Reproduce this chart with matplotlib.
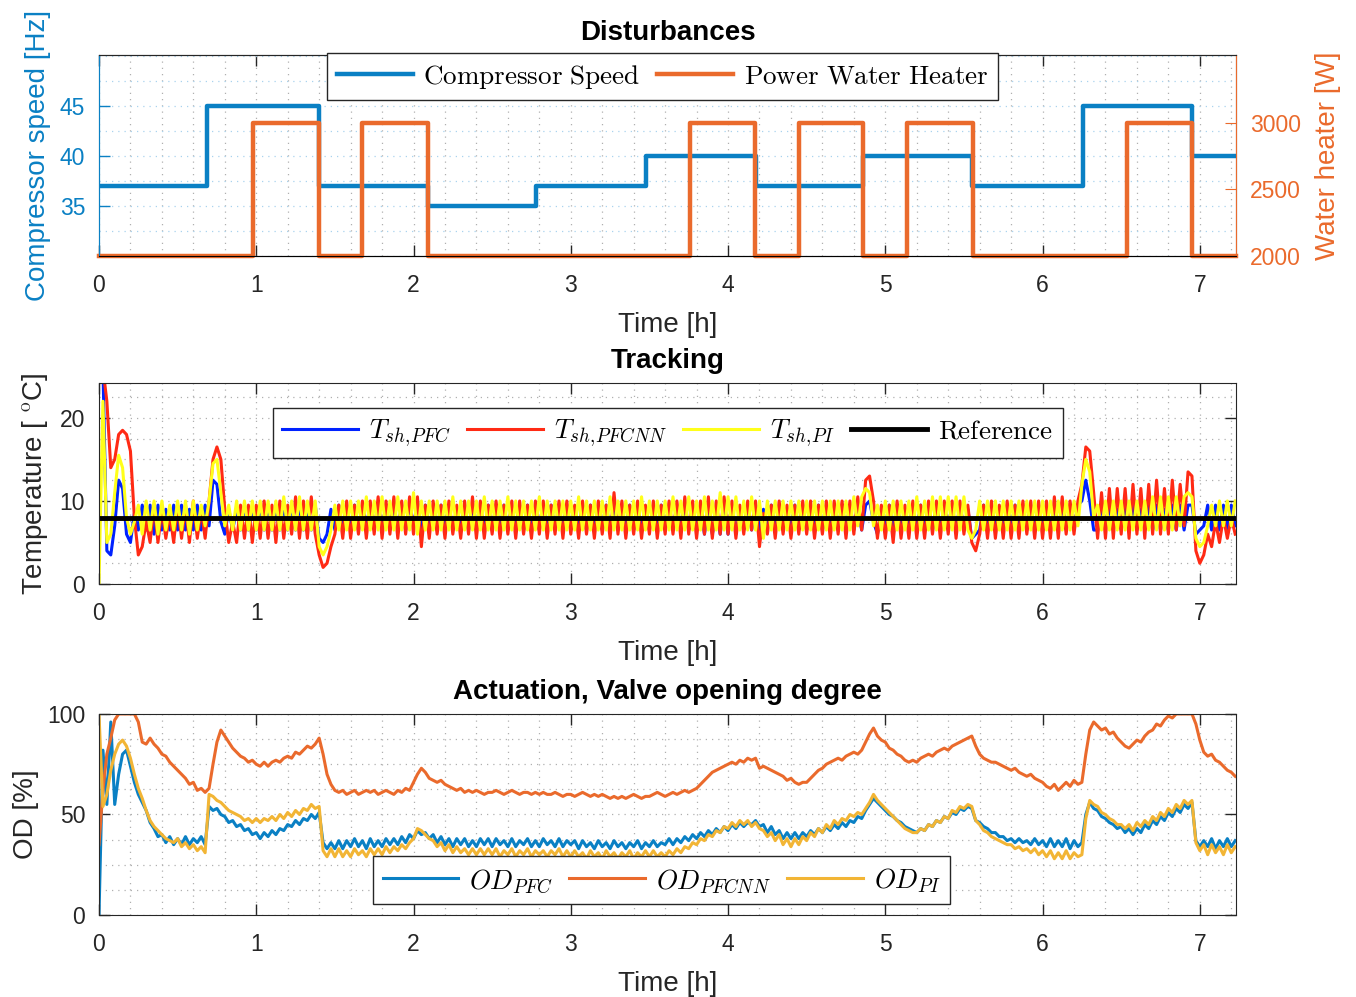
import numpy as np
import matplotlib
matplotlib.use("Agg")
import matplotlib.pyplot as plt
from matplotlib.ticker import MultipleLocator

plt.rcParams['font.family'] = ['Liberation Sans', 'DejaVu Sans']
plt.rcParams['mathtext.fontset'] = 'cm'

# ---------------- disturbances (step signals) ----------------
speed_times = [0, 0.69, 1.40, 2.09, 2.78, 3.48, 4.18, 4.86, 5.55, 6.26, 6.95, 7.23]
speed_vals = [37, 45, 37, 35, 37, 40, 37, 40, 37, 45, 40, 40]
heater_times = [0, 0.98, 1.40, 1.67, 2.09, 3.76, 4.17, 4.45, 4.86, 5.14, 5.56, 6.54, 6.95, 7.23]
heater_vals = [2000, 3000, 2000, 3000, 2000, 3000, 2000, 3000, 2000, 3000, 2000, 3000, 2000, 2000]

# ---------------- tracking, sampled every 0.025 h ----------------
t_pfc = [
    25, 26, 4, 3.5, 7, 12.5, 11.5, 6, 5, 8.5, 6.5, 9.5, 6.5, 9.5, 6, 9.5, 6.5, 9, 6.5, 9.5,
    6.5, 9.5, 6.5, 9, 6.5, 9.5, 6.5, 9.5, 7, 12.5, 12, 7.5, 6, 9, 6.5, 9, 6.5, 9.5, 6.5, 9,
    6.5, 9.5, 6.5, 9.5, 6.5, 9, 6.5, 9.5, 6.5, 9.5, 6.5, 9.5, 6.5, 9, 6.5, 9.5, 5.5, 5, 6, 9,
    6.5, 9.5, 6.5, 9.5, 6.5, 9.5, 6.5, 9.5, 7, 9.5, 6.5, 9.5, 6.5, 9.5, 6.5, 9.5, 6.5, 9.5, 6.5, 9.5,
    7, 10, 6.5, 9.5, 6.5, 9, 6.5, 9.5, 6.5, 9.5, 6.5, 9, 6.5, 9.5, 6.5, 9.5, 6.5, 9, 6.5, 9.5,
    6.5, 9.5, 6.5, 9.5, 6.5, 9, 6.5, 9.5, 6.5, 9.5, 6.5, 9, 6.5, 9.5, 6.5, 9.5, 6.5, 9, 6.5, 9.5,
    6.5, 9, 6.5, 9.5, 6.5, 9.5, 6.5, 9, 6.5, 9.5, 6.5, 9.5, 6.5, 9, 6.5, 9.5, 6.5, 9.5, 6.5, 9,
    6.5, 9.5, 6.5, 9.5, 6.5, 9, 6.5, 9.5, 6.5, 9.5, 6.5, 9, 6.5, 9.5, 6, 9.5, 6, 9, 6, 9.5,
    6, 9.5, 6, 9, 6.5, 9.5, 6.5, 9.5, 6.5, 9, 6.5, 9.5, 6.5, 9.5, 6.5, 9, 6.5, 9.5, 6.5, 9.5,
    6.5, 9, 6.5, 9.5, 6.5, 9.5, 6.5, 9, 6.5, 9.5, 6.5, 9.5, 6.5, 9, 6.5, 9.5, 10, 7.5, 6, 9,
    6.5, 9.5, 6.5, 9.5, 6.5, 9, 6.5, 9.5, 6.5, 9.5, 6.5, 9, 6.5, 9.5, 6.5, 9.5, 6.5, 9, 6.5, 9.5,
    6.5, 9, 5.5, 6, 6.5, 9.5, 6.5, 9.5, 6.5, 9, 6.5, 9.5, 6.5, 9.5, 6.5, 9, 6.5, 9.5, 6.5, 9.5,
    6.5, 9, 6.5, 9.5, 6.5, 9.5, 6.5, 9, 6.5, 9.5, 10, 12.5, 10, 6.5, 6.5, 9.5, 6.5, 9.5, 6.5, 9,
    6.5, 9.5, 6.5, 9.5, 6.5, 9, 6.5, 9.5, 6.5, 9.5, 6.5, 9, 6.5, 9.5, 6.5, 9.5, 6.5, 9.5, 9.5, 6,
    6.5, 7, 9.5, 6.5, 9.5, 6.5, 9.5, 6.5, 9.5, 7,
]
t_pfcnn = [
    25, 26, 22, 14, 15, 18, 18.5, 18, 16, 8, 3.5, 4.5, 7.5, 5, 9.5, 5, 9, 5.5, 8.5, 5,
    9.5, 5.5, 9.5, 5, 10, 5.5, 9, 5.5, 10, 15, 16.5, 15, 9, 5, 7.5, 5, 9.5, 5.5, 9.5, 5,
    9.5, 5.5, 10, 5.5, 9.5, 5, 10, 5.5, 9.5, 6, 10.5, 5.5, 10, 5.5, 10.5, 6, 3.5, 2, 2.5, 4.5,
    6, 9.5, 5.5, 10, 5.5, 9.5, 6, 10, 5.5, 10, 6, 10.5, 5.5, 10, 6, 10.5, 5.5, 10, 6, 10.5,
    6, 10.5, 4.5, 9.5, 5.5, 10, 6, 9.5, 5.5, 10, 6, 9.5, 5.5, 10, 6, 10.5, 5.5, 10, 5.5, 9.5,
    6, 10, 5.5, 9.5, 6, 10, 5.5, 10, 6, 9.5, 5.5, 10, 6, 10, 5.5, 9.5, 6, 10, 5.5, 10,
    6, 9.5, 5.5, 10, 6, 9.5, 5.5, 10, 6, 9.5, 5.5, 11, 6, 10, 5.5, 9.5, 6, 10, 5.5, 9.5,
    6, 10, 5.5, 9.5, 6, 10, 6, 10, 5.5, 10.5, 6, 10, 5.5, 10, 6, 10.5, 5.5, 10, 6, 10.5,
    6, 10, 5.5, 9.5, 6, 10, 6.5, 10, 4.5, 8.5, 6, 9.5, 5.5, 10, 6, 9.5, 5.5, 9.5, 6, 10,
    6, 10, 5.5, 9.5, 6, 10, 5.5, 10, 6, 10, 5.5, 10, 6, 10.5, 6.5, 12.5, 13, 10, 5.5, 9.5,
    5.5, 9.5, 5, 10, 5.5, 9.5, 5.5, 10, 5.5, 9.5, 5.5, 10, 6, 10, 5.5, 10, 6, 10, 5.5, 10,
    6, 9.5, 5, 4, 6, 9.5, 5.5, 10, 5.5, 9.5, 5.5, 10, 5.5, 9.5, 5.5, 10, 6, 10, 5.5, 10,
    5.5, 10, 5.5, 10.5, 5.5, 10.5, 6, 10, 6, 10, 12, 16.5, 16, 11, 5.5, 11, 5.5, 11.5, 5.5, 11.5,
    6, 11.5, 5.5, 12, 6, 11.5, 5.5, 12, 6, 12.5, 6, 11.5, 6, 12.5, 6.5, 12, 7, 13.5, 13, 4,
    2.5, 3.5, 6, 4.5, 7.5, 5, 8, 5.5, 8, 6,
]
t_pi = [
    0, 22, 5, 6, 11, 15.5, 14, 8, 6, 7.5, 9.5, 6, 10, 6.5, 10, 6, 10, 6.5, 9.5, 6.5,
    10, 6.5, 10, 6, 10, 6.5, 9.5, 7, 10, 14.5, 15, 11, 7, 9.5, 6.5, 10, 6.5, 10, 6.5, 10,
    6.5, 10, 6.5, 10, 6.5, 10, 6.5, 10.5, 6.5, 10, 6.5, 10.5, 6.5, 10, 6.5, 10, 4.5, 3.5, 4.5, 6.5,
    9.5, 6.5, 10, 6.5, 10, 6.5, 10, 6.5, 10.5, 6.5, 10, 6.5, 10.5, 6.5, 10, 6.5, 10.5, 6.5, 10, 6.5,
    11, 6, 10, 6.5, 10, 6.5, 10, 6.5, 10, 6.5, 10.5, 6.5, 10, 6.5, 10, 6.5, 10, 6.5, 10.5, 6.5,
    10, 6.5, 10, 6.5, 10.5, 6.5, 10, 6.5, 10, 6.5, 10, 6.5, 10.5, 6.5, 10, 6.5, 10, 6.5, 10, 6.5,
    10, 6.5, 10.5, 6.5, 10, 6.5, 10, 6.5, 10, 6.5, 10.5, 6.5, 10, 6.5, 10, 6.5, 10, 6.5, 10.5, 6.5,
    10, 6.5, 10, 6.5, 10, 6.5, 10.5, 6.5, 10, 6.5, 10.5, 6.5, 10, 6.5, 10.5, 6.5, 10, 6.5, 11, 6.5,
    10.5, 6.5, 10.5, 6.5, 10, 6.5, 10.5, 6.5, 10, 5.5, 10, 6.5, 10, 6.5, 10, 6.5, 10, 6.5, 10, 6.5,
    10, 6.5, 10, 6.5, 10, 6.5, 10, 6.5, 10, 6.5, 10, 6.5, 10.5, 7, 10.5, 11.5, 11, 7, 9.5, 6.5,
    10, 6.5, 10, 6.5, 10, 6.5, 10, 6.5, 10.5, 6.5, 10, 6.5, 10.5, 6.5, 10.5, 6.5, 10.5, 6.5, 10.5, 6.5,
    10.5, 6.5, 5.5, 6.5, 10, 6.5, 10, 6.5, 10, 6.5, 10, 6.5, 10, 6.5, 10, 6.5, 10, 6.5, 10, 6.5,
    10, 6.5, 10, 6.5, 10, 6.5, 10, 6.5, 10, 7, 12, 15, 13.5, 8, 9.5, 6.5, 10, 6.5, 10, 6.5,
    10, 6.5, 10, 6.5, 10, 6.5, 10, 6.5, 10.5, 6.5, 10.5, 6.5, 10.5, 6.5, 10.5, 7, 10.5, 11, 10.5, 5.5,
    4.5, 5, 7, 9.5, 7, 10, 7, 10, 7, 10,
]
t_ref = 8

# ---------------- valve opening degree, sampled every 0.025 h ----------------
od_pfc = [
    0, 82, 55, 96, 55, 70, 80, 82, 74, 66, 60, 56, 52, 46, 43, 39, 40, 36, 39, 35,
    38, 35, 39, 35, 38, 36, 39, 35, 54, 52, 53, 50, 49, 46, 47, 44, 45, 42, 43, 40,
    41, 38, 41, 39, 42, 40, 43, 42, 45, 44, 47, 45, 48, 47, 50, 48, 51, 36, 33, 36,
    33, 37, 33, 37, 34, 38, 34, 37, 33, 38, 34, 37, 34, 38, 35, 38, 35, 39, 36, 40,
    38, 42, 40, 41, 38, 40, 36, 39, 35, 38, 34, 38, 35, 38, 34, 37, 34, 38, 35, 38,
    34, 38, 35, 37, 34, 38, 34, 37, 35, 38, 34, 37, 34, 38, 35, 37, 34, 38, 34, 37,
    35, 37, 33, 37, 34, 36, 33, 37, 34, 36, 33, 37, 34, 36, 33, 36, 34, 37, 33, 36,
    34, 37, 34, 36, 35, 38, 35, 38, 36, 39, 37, 40, 38, 41, 39, 42, 40, 43, 41, 44,
    42, 45, 43, 46, 44, 46, 45, 47, 44, 45, 41, 44, 40, 42, 38, 41, 38, 41, 38, 41,
    39, 42, 40, 43, 41, 44, 42, 45, 43, 46, 44, 47, 46, 49, 48, 52, 55, 58, 56, 54,
    52, 50, 49, 47, 46, 44, 43, 42, 41, 43, 42, 45, 44, 47, 46, 49, 48, 51, 50, 53,
    52, 54, 53, 47, 46, 44, 43, 41, 41, 39, 39, 37, 38, 36, 38, 36, 37, 35, 38, 35,
    37, 34, 38, 34, 37, 34, 38, 33, 37, 34, 36, 50, 56, 53, 52, 49, 48, 46, 45, 43,
    44, 41, 43, 40, 43, 41, 45, 43, 47, 45, 49, 47, 51, 49, 53, 51, 55, 53, 56, 37,
    34, 37, 34, 38, 33, 37, 34, 38, 34, 37,
]
od_pfcnn = [
    35, 62, 80, 88, 97, 100, 100, 100, 100, 100, 96, 86, 85, 88, 85, 83, 80, 79, 76, 74,
    72, 70, 68, 65, 66, 62, 63, 61, 63, 75, 86, 92, 89, 86, 83, 81, 79, 78, 76, 77,
    75, 74, 76, 74, 76, 77, 76, 78, 79, 78, 81, 80, 82, 84, 83, 85, 88, 80, 70, 65,
    62, 61, 62, 60, 61, 62, 60, 61, 62, 61, 62, 60, 61, 62, 61, 60, 62, 61, 63, 62,
    66, 70, 73, 71, 68, 67, 66, 67, 65, 64, 63, 62, 63, 61, 62, 61, 62, 61, 60, 61,
    61, 62, 61, 60, 61, 62, 61, 60, 61, 61, 60, 61, 60, 61, 60, 60, 61, 60, 59, 60,
    60, 59, 60, 61, 60, 59, 60, 59, 60, 59, 58, 59, 58, 59, 58, 59, 60, 59, 58, 59,
    59, 60, 61, 60, 59, 60, 61, 60, 61, 62, 61, 62, 63, 65, 67, 69, 71, 72, 73, 74,
    75, 76, 75, 77, 76, 78, 77, 78, 73, 74, 73, 72, 71, 70, 69, 67, 68, 66, 65, 66,
    66, 68, 70, 72, 73, 75, 76, 77, 78, 77, 79, 80, 81, 80, 82, 86, 90, 93, 89, 87,
    86, 83, 82, 80, 79, 77, 76, 77, 76, 78, 79, 80, 79, 81, 82, 83, 82, 84, 85, 86,
    87, 88, 89, 84, 80, 78, 77, 76, 76, 75, 74, 73, 72, 73, 71, 70, 69, 70, 68, 67,
    66, 64, 63, 65, 62, 64, 66, 64, 67, 65, 66, 80, 92, 96, 94, 92, 93, 90, 91, 88,
    86, 84, 83, 85, 87, 86, 89, 91, 92, 95, 94, 97, 99, 98, 100, 100, 100, 100, 100, 95,
    87, 81, 79, 80, 77, 76, 74, 72, 71, 69,
]
od_pi = [
    100, 54, 60, 72, 80, 85, 87, 84, 78, 70, 63, 58, 52, 47, 44, 42, 40, 38, 37, 36,
    38, 34, 36, 33, 35, 32, 34, 31, 60, 59, 57, 56, 54, 52, 51, 50, 49, 47, 48, 46,
    48, 46, 48, 47, 49, 47, 50, 48, 51, 49, 52, 50, 53, 52, 55, 53, 54, 32, 29, 33,
    29, 33, 29, 32, 29, 33, 30, 32, 29, 33, 30, 33, 30, 34, 31, 34, 32, 35, 33, 36,
    38, 43, 42, 40, 38, 37, 34, 36, 32, 35, 31, 34, 31, 33, 30, 33, 30, 33, 30, 33,
    30, 33, 29, 32, 30, 33, 29, 32, 30, 33, 29, 32, 30, 32, 29, 32, 30, 33, 29, 32,
    29, 32, 29, 31, 28, 32, 29, 31, 28, 32, 29, 31, 28, 31, 29, 32, 28, 31, 29, 32,
    29, 32, 29, 31, 29, 32, 30, 33, 31, 34, 33, 36, 35, 38, 37, 40, 39, 42, 41, 44,
    43, 46, 44, 47, 45, 47, 44, 46, 43, 42, 39, 41, 37, 40, 35, 38, 34, 38, 35, 39,
    37, 41, 39, 43, 41, 45, 43, 47, 45, 48, 47, 50, 49, 51, 50, 53, 56, 60, 57, 55,
    53, 51, 49, 47, 45, 43, 42, 41, 41, 43, 42, 45, 44, 47, 46, 49, 48, 52, 51, 54,
    53, 55, 54, 47, 45, 42, 41, 39, 38, 37, 36, 35, 35, 33, 34, 32, 33, 31, 33, 30,
    32, 29, 32, 28, 31, 28, 32, 28, 31, 29, 30, 48, 57, 55, 54, 51, 50, 48, 47, 45,
    45, 43, 45, 42, 46, 44, 47, 45, 49, 47, 51, 49, 53, 51, 55, 53, 57, 55, 57, 36,
    32, 35, 30, 35, 31, 34, 30, 35, 31, 34,
]

time = np.arange(len(t_pfc)) * 0.025
xmax = 7.23

c_blue = '#0A80C4'
c_orange = '#EA6A2C'
c_yellow = '#F2B535'
c_dark = '#262626'
tick_fs = 16.5
label_fs = 20
leg_fs = 19.5


def style_axes(ax, ystep_minor):
    ax.set_xlim(0, xmax)
    ax.xaxis.set_major_locator(MultipleLocator(1))
    ax.xaxis.set_minor_locator(MultipleLocator(0.2))
    ax.yaxis.set_minor_locator(MultipleLocator(ystep_minor))
    ax.tick_params(which='major', direction='in', length=8, width=1, top=True, right=True,
                   labelsize=tick_fs, colors=c_dark, pad=10)
    ax.tick_params(axis='x', which='major', pad=13)
    ax.tick_params(which='minor', length=0)
    ax.grid(which='both', axis='both', linestyle=(0, (1, 4)), color='#b0b0b0', linewidth=0.9)
    ax.set_axisbelow(True)
    for s in ax.spines.values():
        s.set_color(c_dark)
    ax.set_xlabel('Time [h]', fontsize=label_fs, color=c_dark, labelpad=11)


def add_legend(ax, handles, labels, ncol, loc, anchor):
    ax.legend(handles, labels, ncol=ncol, loc=loc, bbox_to_anchor=anchor,
              bbox_transform=fig.transFigure, fontsize=leg_fs, fancybox=False,
              edgecolor=c_dark, framealpha=1, handlelength=2.8, handletextpad=0.4,
              columnspacing=0.6, borderpad=0.35, borderaxespad=0)


fig = plt.figure(figsize=(13.56, 9.97), dpi=100)
ax1 = fig.add_axes([0.073, 0.7432, 0.8385, 0.2016])
ax2 = fig.add_axes([0.073, 0.4142, 0.8385, 0.2017])
ax3 = fig.add_axes([0.073, 0.0822, 0.8385, 0.2017])

# ---- Disturbances ----
style_axes(ax1, 2.5)
ax1.grid(which='both', axis='y', linestyle=(0, (1, 4)), color='#a9d3ee', linewidth=0.9)
ax1.tick_params(axis='y', colors=c_blue, right=True)
ax1.spines['left'].set_color(c_blue)
l1, = ax1.plot(speed_times, speed_vals, drawstyle='steps-post', color=c_blue, lw=3.2)
ax1.set_ylim(30, 50.1)
ax1.set_yticks([35, 40, 45])
ax1.set_ylabel('Compressor speed [Hz]', fontsize=label_fs, color=c_blue, labelpad=6)
ax1.set_title('Disturbances', fontsize=label_fs, fontweight='bold', pad=11)

ax1r = ax1.twinx()
l2, = ax1r.plot(heater_times, heater_vals, drawstyle='steps-post', color=c_orange, lw=3.2,
                clip_on=False)
ax1r.set_xlim(0, xmax)
ax1r.set_ylim(2000, 3510)
ax1r.set_yticks([2000, 2500, 3000])
ax1r.tick_params(axis='y', direction='in', length=8, colors=c_orange, labelsize=tick_fs, pad=10)
ax1r.spines['right'].set_color(c_orange)
ax1r.spines['left'].set_color(c_blue)
ax1r.spines['top'].set_color(c_dark)
ax1r.set_ylabel('Water heater [W]', fontsize=label_fs, color=c_orange, labelpad=10)
add_legend(ax1r, [l1, l2], [r'$\mathrm{Compressor\ Speed}$', r'$\mathrm{Power\ Water\ Heater}$'],
           2, 'upper center', (0.4886, 0.9468))

# ---- Tracking ----
style_axes(ax2, 2.5)
h1, = ax2.plot(time, t_pfc, color='#0022ff', lw=2.2)
h2, = ax2.plot(time, t_pfcnn, color='#ff2a14', lw=2.2)
h3, = ax2.plot(time, t_pi, color='#ffff1a', lw=2.2)
h4 = ax2.axhline(t_ref, color='black', lw=3.5)
ax2.set_ylim(0, 24.2)
ax2.set_yticks([0, 10, 20])
ax2.set_ylabel(r'Temperature [ $^{\mathrm{o}}$C]', fontsize=label_fs, color=c_dark, labelpad=6)
ax2.set_title('Tracking', fontsize=label_fs, fontweight='bold', pad=11)
add_legend(ax2, [h1, h2, h3, h4],
           [r'$T_{sh,\!PFC}$', r'$T_{sh,\!PFCNN}$', r'$T_{sh,\!PI}$', r'$\mathrm{Reference}$'],
           4, 'upper center', (0.4923, 0.5908))

# ---- Actuation ----
style_axes(ax3, 12.5)
g1, = ax3.plot(time, od_pfc, color=c_blue, lw=2.2)
g2, = ax3.plot(time, od_pfcnn, color=c_orange, lw=2.2)
g3, = ax3.plot(time, od_pi, color=c_yellow, lw=2.2)
ax3.set_ylim(0, 100)
ax3.set_yticks([0, 50, 100])
ax3.set_ylabel('OD [%]', fontsize=label_fs, color=c_dark, labelpad=6)
ax3.set_title('Actuation, Valve opening degree', fontsize=label_fs, fontweight='bold', pad=11)
add_legend(ax3, [g1, g2, g3], [r'$OD_{PFC}$', r'$OD_{PFCNN}$', r'$OD_{PI}$'],
           3, 'lower center', (0.4878, 0.0933))

fig.savefig('out.png', dpi=100)
